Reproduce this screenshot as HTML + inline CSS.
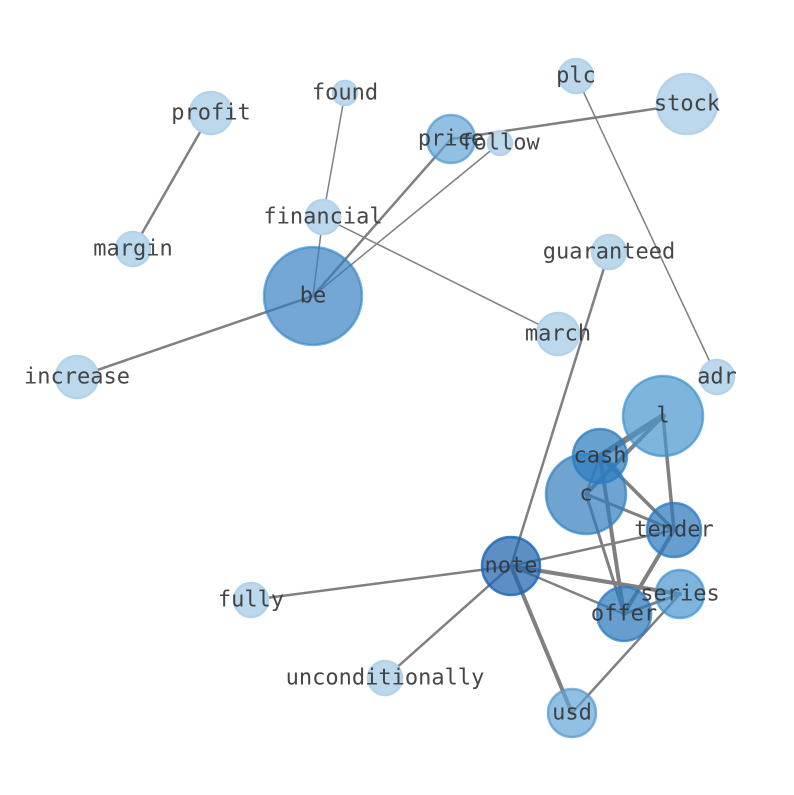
<!DOCTYPE html>
<html><head><style>html,body{margin:0;padding:0;background:#fff}</style></head><body>
<svg width="794" height="790" viewBox="0 0 794 790" xmlns="http://www.w3.org/2000/svg">
<g stroke="#808080" stroke-linecap="round" fill="none">
<line x1="211" y1="113" x2="133" y2="249" stroke-width="2.5"/>
<line x1="345" y1="93" x2="323" y2="217" stroke-width="1.5"/>
<line x1="323" y1="217" x2="558" y2="334" stroke-width="1.5"/>
<line x1="313" y1="296" x2="323" y2="217" stroke-width="1.5"/>
<line x1="313" y1="296" x2="451" y2="139" stroke-width="2.5"/>
<line x1="313" y1="296" x2="500" y2="143" stroke-width="1.5"/>
<line x1="451" y1="139" x2="687" y2="104" stroke-width="2.5"/>
<line x1="576" y1="76" x2="717" y2="377" stroke-width="1.5"/>
<line x1="313" y1="296" x2="77" y2="377" stroke-width="2.5"/>
<line x1="609" y1="252" x2="511" y2="566" stroke-width="2.5"/>
<line x1="511" y1="566" x2="251" y2="600" stroke-width="2.5"/>
<line x1="511" y1="566" x2="385" y2="678" stroke-width="2.5"/>
<line x1="511" y1="566" x2="572" y2="713" stroke-width="4"/>
<line x1="511" y1="566" x2="624" y2="614" stroke-width="2.5"/>
<line x1="511" y1="566" x2="674" y2="530" stroke-width="2.5"/>
<line x1="511" y1="566" x2="680" y2="594" stroke-width="4"/>
<line x1="680" y1="594" x2="572" y2="713" stroke-width="2.5"/>
<line x1="600" y1="456" x2="663" y2="416" stroke-width="6"/>
<line x1="586" y1="494" x2="663" y2="416" stroke-width="4"/>
<line x1="600" y1="456" x2="586" y2="494" stroke-width="2.5"/>
<line x1="600" y1="456" x2="674" y2="530" stroke-width="3.5"/>
<line x1="586" y1="494" x2="674" y2="530" stroke-width="3"/>
<line x1="663" y1="416" x2="674" y2="530" stroke-width="3.5"/>
<line x1="600" y1="456" x2="624" y2="614" stroke-width="4"/>
<line x1="586" y1="494" x2="624" y2="614" stroke-width="3"/>
<line x1="674" y1="530" x2="624" y2="614" stroke-width="4"/>
<line x1="624" y1="614" x2="680" y2="594" stroke-width="3"/>
</g>
<g stroke-width="2.5">
<circle cx="211" cy="113" r="21" fill="#bcd8ec" stroke="#b3d3ea"/>
<circle cx="345" cy="93" r="12" fill="#bcd8ec" stroke="#b3d3ea"/>
<circle cx="576" cy="76" r="17" fill="#bcd8ec" stroke="#b3d3ea"/>
<circle cx="687" cy="104" r="30" fill="#bcd8ec" stroke="#b3d3ea"/>
<circle cx="451" cy="139" r="24" fill="rgba(100,165,214,0.7)" stroke="rgba(80,150,205,0.7)"/>
<circle cx="500" cy="143" r="12" fill="#bcd8ec" stroke="#b3d3ea"/>
<circle cx="323" cy="217" r="17" fill="#bcd8ec" stroke="#b3d3ea"/>
<circle cx="133" cy="249" r="17" fill="#bcd8ec" stroke="#b3d3ea"/>
<circle cx="609" cy="252" r="17" fill="#bcd8ec" stroke="#b3d3ea"/>
<circle cx="313" cy="296" r="49" fill="rgba(50,125,190,0.68)" stroke="rgba(40,130,200,0.6)"/>
<circle cx="558" cy="334" r="21" fill="#bcd8ec" stroke="#b3d3ea"/>
<circle cx="77" cy="377" r="21" fill="#bcd8ec" stroke="#b3d3ea"/>
<circle cx="717" cy="377" r="17" fill="#bcd8ec" stroke="#b3d3ea"/>
<circle cx="663" cy="416" r="40" fill="rgba(70,150,205,0.7)" stroke="rgba(60,145,205,0.7)"/>
<circle cx="586" cy="494" r="40" fill="rgba(50,125,190,0.7)" stroke="rgba(45,130,200,0.7)"/>
<circle cx="600" cy="456" r="27" fill="rgba(45,125,190,0.72)" stroke="rgba(40,125,195,0.75)"/>
<circle cx="674" cy="530" r="27" fill="rgba(45,120,190,0.72)" stroke="rgba(40,120,195,0.75)"/>
<circle cx="511" cy="566" r="29" fill="rgba(30,100,175,0.72)" stroke="rgba(25,100,180,0.8)"/>
<circle cx="680" cy="594" r="24" fill="rgba(70,150,205,0.7)" stroke="rgba(60,145,205,0.7)"/>
<circle cx="624" cy="614" r="27" fill="rgba(45,120,190,0.72)" stroke="rgba(40,120,195,0.75)"/>
<circle cx="251" cy="600" r="17" fill="#bcd8ec" stroke="#b3d3ea"/>
<circle cx="385" cy="678" r="17" fill="#bcd8ec" stroke="#b3d3ea"/>
<circle cx="572" cy="713" r="24" fill="rgba(100,165,214,0.7)" stroke="rgba(80,150,205,0.7)"/>
</g>
<g font-family="'DejaVu Sans Mono','Liberation Mono',monospace" font-size="22" fill="#333" fill-opacity="0.9" text-anchor="middle" dominant-baseline="central">
<text x="211" y="113">profit</text>
<text x="345" y="93">found</text>
<text x="576" y="76">plc</text>
<text x="687" y="104">stock</text>
<text x="451" y="139">price</text>
<text x="500" y="143">follow</text>
<text x="323" y="217">financial</text>
<text x="133" y="249">margin</text>
<text x="609" y="252">guaranteed</text>
<text x="313" y="296">be</text>
<text x="558" y="334">march</text>
<text x="77" y="377">increase</text>
<text x="717" y="377">adr</text>
<text x="663" y="416">l</text>
<text x="600" y="456">cash</text>
<text x="586" y="494">c</text>
<text x="674" y="530">tender</text>
<text x="511" y="566">note</text>
<text x="680" y="594">series</text>
<text x="624" y="614">offer</text>
<text x="251" y="600">fully</text>
<text x="385" y="678">unconditionally</text>
<text x="572" y="713">usd</text>
</g>
</svg>
</body></html>
